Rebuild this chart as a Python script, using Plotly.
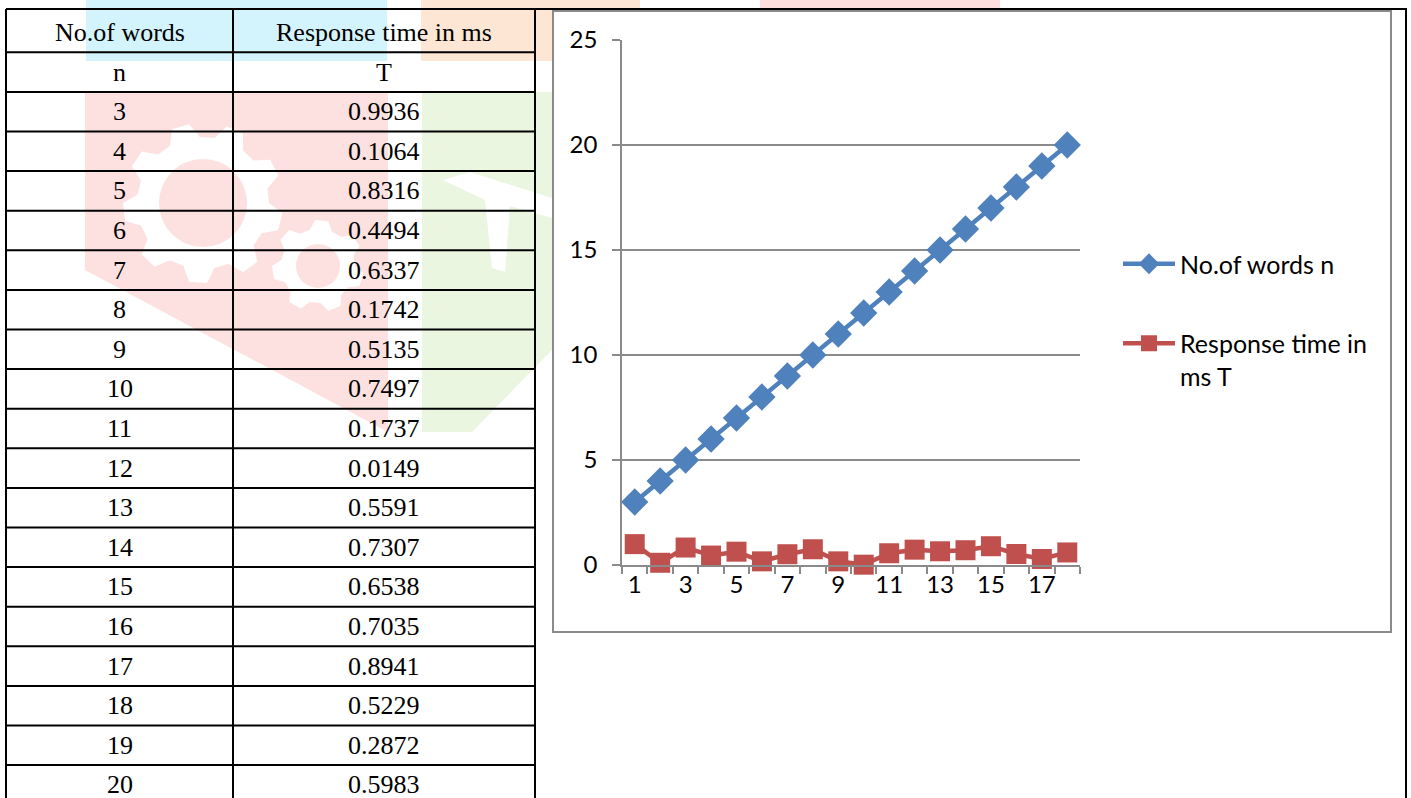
import math
import plotly.graph_objects as go

W, H = 1411, 798

# ---- data -------------------------------------------------------------
point_no = [1, 2, 3, 4, 5, 6, 7, 8, 9, 10, 11, 12, 13, 14, 15, 16, 17, 18]
words_n = [3, 4, 5, 6, 7, 8, 9, 10, 11, 12, 13, 14, 15, 16, 17, 18, 19, 20]
resp_T = [0.9936, 0.1064, 0.8316, 0.4494, 0.6337, 0.1742, 0.5135, 0.7497,
          0.1737, 0.0149, 0.5591, 0.7307, 0.6538, 0.7035, 0.8941, 0.5229,
          0.2872, 0.5983]
y_tick_vals = [0, 5, 10, 15, 20, 25]
x_tick_vals = [1, 3, 5, 7, 9, 11, 13, 15, 17]
table_header = ["No.of words", "Response time in ms"]
table_subheader = ["n", "T"]
legend_names = ["No.of words n", "Response time in<br>ms T"]

# ---- styling ----------------------------------------------------------
BLUE = "#4F81BD"
RED = "#C0504D"
GREY = "#8A8A8A"
SERIF = "Liberation Serif"
SANS = "Lato"
PINK = "#fde1e1"


def fx(x):
    return x / W


def fy(y):
    return 1 - y / H


def poly_path(pts):
    return "M " + " L ".join(f"{fx(x)},{fy(y)}" for x, y in pts) + " Z"


def gear_points(cx, cy, r_out, r_base, teeth):
    pts = []
    step = 2 * math.pi / teeth
    for i in range(teeth):
        a = i * step
        for da, r in [(0.0, r_base), (0.18, r_out), (0.5, r_out), (0.68, r_base)]:
            ang = a + da * step
            pts.append((cx + r * math.cos(ang), cy + r * math.sin(ang)))
    return pts


shapes = []
annotations = []


def add_fill(path, color):
    shapes.append(dict(type="path", path=path, xref="paper", yref="paper",
                       fillcolor=color, line=dict(width=0), layer="below"))


# faint page watermark behind the table
add_fill(poly_path([(86, -2), (387, -2), (387, 61), (86, 61)]), "#d3f4fc")
add_fill(poly_path([(421, -2), (552, -2), (552, 61), (421, 61)]), "#fde6d3")
add_fill(poly_path([(552, -2), (640, -2), (640, 9), (552, 9)]), "#fde6d3")
add_fill(poly_path([(760, -2), (1000, -2), (1000, 9), (760, 9)]), "#fde0de")
add_fill(poly_path([(85, 92), (388, 92), (388, 432), (85, 270)]), PINK)
add_fill(poly_path([(422, 92), (552, 92), (552, 350), (472, 432), (422, 432)]), "#ebf6e1")
# white swoosh across the green block
add_fill(poly_path([(443, 180), (470, 172), (552, 198), (552, 218), (510, 206),
                    (505, 272), (492, 268), (485, 200)]), "white")

# white cog outlines inside the red block
for cx, cy, r_out, r_base, r_in, teeth in [(203, 203, 80, 66, 44, 9),
                                            (318, 266, 46, 37, 22, 7)]:
    add_fill(poly_path(gear_points(cx, cy, r_out, r_base, teeth)), "white")
    shapes.append(dict(type="circle", xref="paper", yref="paper",
                       x0=fx(cx - r_in), x1=fx(cx + r_in),
                       y0=fy(cy + r_in), y1=fy(cy - r_in),
                       fillcolor=PINK, line=dict(width=0), layer="below"))

# ---- table on the left -------------------------------------------------
col_edges = [6, 233, 535]
row_pitch = 39.6
first_center = 32.5
n_rows = 2 + len(words_n)
row_centers = [first_center + row_pitch * k for k in range(n_rows)]
row_lines = [9] + [c + row_pitch / 2 for c in row_centers]

for yl in row_lines:
    shapes.append(dict(type="line", xref="paper", yref="paper",
                       x0=fx(col_edges[0]), x1=fx(col_edges[-1]), y0=fy(yl), y1=fy(yl),
                       line=dict(color="black", width=2), layer="below"))
# top border runs across the whole page width
shapes.append(dict(type="line", xref="paper", yref="paper",
                   x0=fx(col_edges[-1]), x1=fx(1407), y0=fy(9), y1=fy(9),
                   line=dict(color="black", width=2), layer="below"))
for xl in col_edges + [1406]:
    shapes.append(dict(type="line", xref="paper", yref="paper",
                       x0=fx(xl), x1=fx(xl), y0=fy(9), y1=fy(H + 5),
                       line=dict(color="black", width=2), layer="below"))

col_mid = [(col_edges[0] + col_edges[1]) / 2, (col_edges[1] + col_edges[2]) / 2]
rows_text = [table_header, table_subheader] + [
    [str(n), f"{t:.4f}"] for n, t in zip(words_n, resp_T)
]
for rc, cells in zip(row_centers, rows_text):
    for cm, txt in zip(col_mid, cells):
        annotations.append(dict(x=fx(cm), y=fy(rc), xref="paper", yref="paper",
                                text=txt, showarrow=False, xanchor="center",
                                yanchor="middle",
                                font=dict(family=SERIF, size=26, color="black")))

# ---- chart frame --------------------------------------------------------
shapes.append(dict(type="rect", xref="paper", yref="paper",
                   x0=fx(553), x1=fx(1391), y0=fy(632), y1=fy(11),
                   fillcolor="white", line=dict(color=GREY, width=2), layer="below"))

# ---- series -------------------------------------------------------------
fig = go.Figure()
fig.add_trace(go.Scatter(
    x=point_no, y=words_n, name=legend_names[0], mode="lines+markers",
    legendgroup="n",
    line=dict(color=BLUE, width=4.5),
    marker=dict(symbol="diamond", size=21, color=BLUE),
    cliponaxis=False,
))
fig.add_trace(go.Scatter(
    x=point_no, y=resp_T, name=legend_names[1], mode="lines+markers",
    legendgroup="T",
    line=dict(color=RED, width=4.5),
    marker=dict(symbol="square", size=20, color=RED),
    cliponaxis=False,
))

fig.update_layout(
    width=W, height=H,
    margin=dict(l=0, r=0, t=0, b=0, pad=0, autoexpand=False),
    paper_bgcolor="white",
    plot_bgcolor="rgba(0,0,0,0)",
    shapes=shapes,
    annotations=annotations,
    showlegend=True,
    legend=dict(
        x=fx(1118), y=fy(241), xanchor="left", yanchor="top",
        bgcolor="rgba(0,0,0,0)", borderwidth=0,
        font=dict(family=SANS, size=25, color="black"),
        valign="top", itemwidth=52, tracegroupgap=44,
    ),
    xaxis=dict(
        domain=[fx(622), fx(1080)],
        range=[0.5, 18.5],
        tickmode="array", tickvals=x_tick_vals, ticks="",
        showgrid=False, zeroline=False,
        showline=True, linecolor=GREY, linewidth=1.5,
        tickfont=dict(family=SANS, size=24, color="black"),
        ticklabelstandoff=-3,
        minor=dict(tickmode="array", tickvals=[i + 0.5 for i in range(19)],
                   ticks="outside", ticklen=7, tickcolor=GREY, tickwidth=1.5,
                   showgrid=False),
        automargin=False,
        fixedrange=True,
    ),
    yaxis=dict(
        domain=[fy(565), fy(40)],
        range=[0, 25],
        tickmode="array", tickvals=y_tick_vals,
        ticks="outside", ticklen=8, tickcolor=GREY, tickwidth=1.5,
        showgrid=True, gridcolor=GREY, gridwidth=1.5,
        zeroline=False,
        showline=True, linecolor=GREY, linewidth=1.5,
        tickfont=dict(family=SANS, size=24, color="black"),
        ticklabelstandoff=10,
        automargin=False,
        fixedrange=True,
    ),
)

fig.write_html("out.html")
